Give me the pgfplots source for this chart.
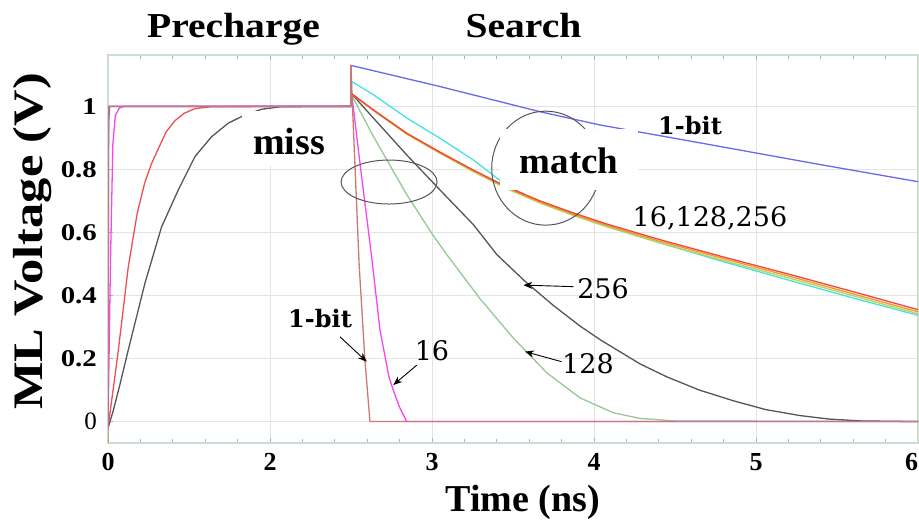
\documentclass[border=0pt]{standalone}
\usepackage{fontspec}
\usepackage{pgfplots}
\pgfplotsset{compat=1.18}
\usetikzlibrary{arrows.meta}
\newfontfamily\tnr{Liberation Serif}
\newfontfamily\tnrw[FakeStretch=1.13]{Liberation Serif}
\newfontfamily\tnrv[FakeStretch=1.2]{Liberation Serif}
\newfontfamily\dvs{DejaVu Serif}
\definecolor{cblue}{RGB}{105,105,235}
\definecolor{ccyan}{RGB}{70,225,225}
\definecolor{cred}{RGB}{240,70,60}
\definecolor{corange}{RGB}{245,150,40}
\definecolor{cyell}{RGB}{185,210,90}
\definecolor{crose}{RGB}{200,120,120}
\definecolor{cmag}{RGB}{245,70,245}
\definecolor{cgreen}{RGB}{150,200,150}
\definecolor{cgray}{RGB}{85,85,85}
\definecolor{cpre}{RGB}{238,80,80}
\definecolor{gridc}{RGB}{228,228,228}
\definecolor{framec}{RGB}{205,222,205}
\begin{document}
\begin{tikzpicture}
\path[use as bounding box] (0,0) rectangle (919pt,523pt);
\begin{axis}[
  at={(108pt,80pt)}, anchor=south west, scale only axis,
  width=810pt, height=388pt,
  xmin=1, xmax=6, ymin=-0.068, ymax=1.163,
  xtick={1,2,3,4,5,6}, xticklabels={0,2,3,4,5,{\llap{6}}},
  ytick={0,0.2,0.4,0.6,0.8,1},
  yticklabels={{\tnr\mdseries\fontsize{25}{25}\selectfont 0},{0.2},{0.4},{0.6},{0.8},{1}},
  minor x tick num=4,
  ytick pos=left,
  tick align=inside,
  major tick length=5pt, minor tick length=4pt,
  tick style={gray!60, line width=0.7pt},
  grid=major, major grid style={gridc, line width=1pt},
  axis line style={framec, line width=1.2pt},
  xticklabel style={font=\tnr\bfseries\fontsize{26}{26}\selectfont, inner sep=0pt, yshift=-10pt},
  yticklabel style={font=\tnrv\bfseries\fontsize{24}{24}\selectfont, inner sep=0pt, xshift=-11pt},
]
% ---------- precharge ----------
\addplot[cgray, line width=1.3pt] coordinates {(1.0,-0.02) (1.03,0.03) (1.07,0.11) (1.125,0.227) (1.228,0.439) (1.331,0.618) (1.434,0.735) (1.537,0.841) (1.64,0.904) (1.743,0.947) (1.846,0.973) (1.949,0.991) (2.07,0.999) (2.5,1.0)};
\addplot[cpre, line width=1.3pt] coordinates {(1.0,-0.02) (1.06,0.21) (1.125,0.49) (1.18,0.66) (1.228,0.76) (1.27,0.82) (1.31,0.865) (1.36,0.92) (1.414,0.955) (1.47,0.978) (1.537,0.993) (1.64,0.999) (2.5,1.0)};
\addplot[cmag, line width=1.3pt] coordinates {(1.0,-0.02) (1.015,0.5) (1.03,0.88) (1.045,0.97) (1.07,0.995) (1.1,1.0) (2.5,1.0)};
\addplot[cblue, line width=1.3pt] coordinates {(1.0,-0.02) (1.004,0.95) (1.01,1.0) (2.5,1.0)};
% ---------- search: miss ----------
\addplot[cgreen, line width=1.3pt] coordinates {(2.5,1.0) (2.504,1.035) (2.638,0.905) (2.844,0.72) (3.008,0.59) (3.091,0.53) (3.296,0.39) (3.502,0.265) (3.708,0.155) (3.914,0.075) (4.119,0.028) (4.284,0.010) (4.5,0.002) (6,0.0)};
\addplot[cgray, line width=1.3pt] coordinates {(2.5,1.0) (2.504,1.04) (2.638,0.963) (2.844,0.846) (3.049,0.735) (3.255,0.625) (3.4,0.53) (3.574,0.445) (3.75,0.368) (3.914,0.303) (4.037,0.26) (4.284,0.183) (4.449,0.142) (4.65,0.1) (4.86,0.066) (5.06,0.038) (5.272,0.019) (5.45,0.008) (5.65,0.002) (6,0.0)};
\addplot[cmag, line width=1.3pt] coordinates {(2.5,1.0) (2.504,1.04) (2.56,0.80) (2.628,0.52) (2.679,0.29) (2.735,0.14) (2.761,0.10) (2.80,0.045) (2.844,0.0) (6,0.0)};
\addplot[crose, line width=1.3pt] coordinates {(1.0,-0.068) (1.0,-0.02) (1.004,1.0) (2.5,1.0) (2.5,1.13) (2.506,1.04) (2.55,0.50) (2.586,0.195) (2.617,0.0) (6,0.0)};
% ---------- search: match ----------
\addplot[ccyan, line width=1.3pt] coordinates {(2.5,1.0) (2.504,1.079) (2.638,1.037) (2.844,0.963) (3.049,0.899) (3.255,0.830) (3.42,0.765) (3.461,0.748) (3.667,0.696) (3.872,0.656) (4.078,0.620) (4.4,0.568) (4.8,0.507) (5.2,0.449) (5.6,0.392) (6.0,0.337)};
\addplot[cyell, line width=1.3pt] coordinates {(2.504,1.04) (2.638,0.987) (2.844,0.912) (3.049,0.851) (3.255,0.793) (3.461,0.739) (3.667,0.693) (3.872,0.654) (4.078,0.618) (4.4,0.568) (4.8,0.511) (5.2,0.456) (5.6,0.399) (6.0,0.342)};
\addplot[corange, line width=1.3pt] coordinates {(2.504,1.04) (2.638,0.988) (2.844,0.913) (3.049,0.853) (3.255,0.796) (3.461,0.742) (3.667,0.697) (3.872,0.658) (4.078,0.623) (4.4,0.573) (4.8,0.517) (5.2,0.462) (5.6,0.405) (6.0,0.348)};
\addplot[cred, line width=1.3pt] coordinates {(2.504,1.04) (2.638,0.989) (2.844,0.915) (3.049,0.855) (3.255,0.798) (3.461,0.745) (3.667,0.700) (3.872,0.662) (4.078,0.627) (4.4,0.578) (4.8,0.522) (5.2,0.468) (5.6,0.412) (6.0,0.355)};
\addplot[cblue, line width=1.3pt] coordinates {(2.5,1.0) (2.5,1.13) (3.049,1.063) (3.667,0.983) (4.037,0.941) (4.7,0.88) (5.389,0.816) (6,0.761)};
\addplot[crose, line width=1.3pt] coordinates {(2.5,1.0) (2.5,1.13)};
% ---------- annotations ----------
\draw[cgray, line width=1pt] (axis cs:2.735,0.760) ellipse [x radius=48pt, y radius=22pt];
\draw[cgray, line width=1pt] (axis cs:3.702,0.804) ellipse [x radius=54pt, y radius=57pt];
\fill[white] (axis cs:3.42,0.735) rectangle (axis cs:4.272,0.928);
\node[anchor=base, font=\tnr\bfseries\fontsize{37}{37}\selectfont, inner sep=0pt] at (axis cs:3.846,0.788) {match};
\fill[white] (axis cs:1.827,0.814) rectangle (axis cs:2.407,0.985);
\node[anchor=base, font=\tnr\bfseries\fontsize{38}{38}\selectfont, inner sep=0pt] at (axis cs:2.117,0.846) {miss};
\node[anchor=base, font=\dvs\bfseries\fontsize{24}{24}\selectfont, inner sep=0pt] at (axis cs:2.309,0.300) {1-bit};
\node[anchor=base, font=\dvs\bfseries\fontsize{24}{24}\selectfont, inner sep=0pt] at (axis cs:4.593,0.910) {1-bit};
\node[anchor=base, font=\dvs\fontsize{27}{27}\selectfont, inner sep=0pt] at (axis cs:3.0,0.195) {16};
\node[anchor=base, font=\dvs\fontsize{27}{27}\selectfont, inner sep=0pt] at (axis cs:4.056,0.392) {256};
\node[anchor=base, font=\dvs\fontsize{27}{27}\selectfont, inner sep=0pt] at (axis cs:3.963,0.154) {128};
\node[anchor=base, font=\dvs\fontsize{27}{27}\selectfont, inner sep=0pt] at (axis cs:4.716,0.618) {16,128,256};
\draw[-{Stealth[length=9pt,width=7pt]}, line width=0.9pt] (axis cs:2.432,0.269) -- (axis cs:2.597,0.190);
\draw[-{Stealth[length=9pt,width=7pt]}, line width=0.9pt] (axis cs:2.906,0.179) -- (axis cs:2.761,0.116);
\draw[-{Stealth[length=9pt,width=7pt]}, line width=0.9pt] (axis cs:3.872,0.428) -- (axis cs:3.564,0.433);
\draw[-{Stealth[length=9pt,width=7pt]}, line width=0.9pt] (axis cs:3.800,0.190) -- (axis cs:3.574,0.222);
\end{axis}
\node[anchor=base, font=\tnrw\bfseries\fontsize{35}{35}\selectfont] at (233.5pt,485pt) {Precharge};
\node[anchor=base, font=\tnrw\bfseries\fontsize{35}{35}\selectfont] at (523.5pt,485pt) {Search};
\node[anchor=base, font=\tnr\bfseries\fontsize{38}{38}\selectfont] at (523pt,11.3pt) {Time (ns)};
\node[anchor=base, rotate=90, font=\tnrv\bfseries\fontsize{42}{42}\selectfont] at (42pt,281.5pt) {ML Voltage (V)};
\end{tikzpicture}
\end{document}
